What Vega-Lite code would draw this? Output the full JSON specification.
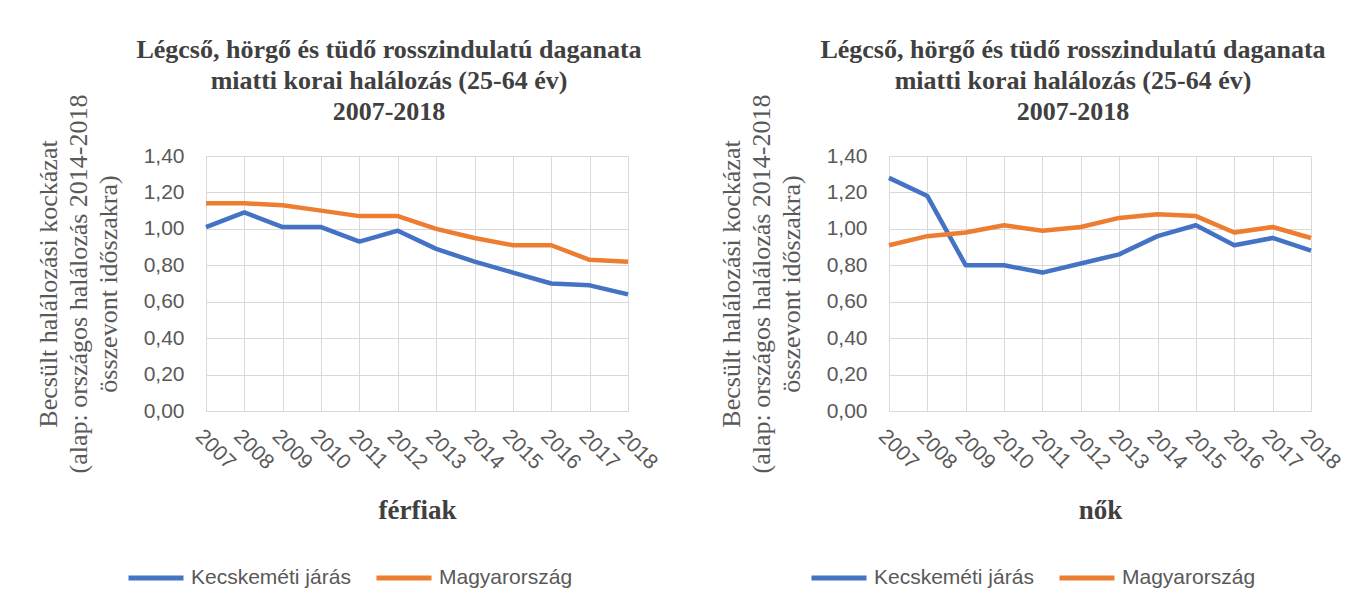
{
  "$schema": "https://vega.github.io/schema/vega-lite/v6.json",
  "background": "white",
  "padding": {"left": 35, "top": 36, "right": 5, "bottom": 5},
  "datasets": {
    "rows": [
      {"sex": "férfiak", "series": "Kecskeméti járás", "year": "2007", "value": 1.01},
      {"sex": "férfiak", "series": "Kecskeméti járás", "year": "2008", "value": 1.09},
      {"sex": "férfiak", "series": "Kecskeméti járás", "year": "2009", "value": 1.01},
      {"sex": "férfiak", "series": "Kecskeméti járás", "year": "2010", "value": 1.01},
      {"sex": "férfiak", "series": "Kecskeméti járás", "year": "2011", "value": 0.93},
      {"sex": "férfiak", "series": "Kecskeméti járás", "year": "2012", "value": 0.99},
      {"sex": "férfiak", "series": "Kecskeméti járás", "year": "2013", "value": 0.89},
      {"sex": "férfiak", "series": "Kecskeméti járás", "year": "2014", "value": 0.82},
      {"sex": "férfiak", "series": "Kecskeméti járás", "year": "2015", "value": 0.76},
      {"sex": "férfiak", "series": "Kecskeméti járás", "year": "2016", "value": 0.70},
      {"sex": "férfiak", "series": "Kecskeméti járás", "year": "2017", "value": 0.69},
      {"sex": "férfiak", "series": "Kecskeméti járás", "year": "2018", "value": 0.64},
      {"sex": "férfiak", "series": "Magyarország", "year": "2007", "value": 1.14},
      {"sex": "férfiak", "series": "Magyarország", "year": "2008", "value": 1.14},
      {"sex": "férfiak", "series": "Magyarország", "year": "2009", "value": 1.13},
      {"sex": "férfiak", "series": "Magyarország", "year": "2010", "value": 1.10},
      {"sex": "férfiak", "series": "Magyarország", "year": "2011", "value": 1.07},
      {"sex": "férfiak", "series": "Magyarország", "year": "2012", "value": 1.07},
      {"sex": "férfiak", "series": "Magyarország", "year": "2013", "value": 1.00},
      {"sex": "férfiak", "series": "Magyarország", "year": "2014", "value": 0.95},
      {"sex": "férfiak", "series": "Magyarország", "year": "2015", "value": 0.91},
      {"sex": "férfiak", "series": "Magyarország", "year": "2016", "value": 0.91},
      {"sex": "férfiak", "series": "Magyarország", "year": "2017", "value": 0.83},
      {"sex": "férfiak", "series": "Magyarország", "year": "2018", "value": 0.82},
      {"sex": "nők", "series": "Kecskeméti járás", "year": "2007", "value": 1.28},
      {"sex": "nők", "series": "Kecskeméti járás", "year": "2008", "value": 1.18},
      {"sex": "nők", "series": "Kecskeméti járás", "year": "2009", "value": 0.80},
      {"sex": "nők", "series": "Kecskeméti járás", "year": "2010", "value": 0.80},
      {"sex": "nők", "series": "Kecskeméti járás", "year": "2011", "value": 0.76},
      {"sex": "nők", "series": "Kecskeméti járás", "year": "2012", "value": 0.81},
      {"sex": "nők", "series": "Kecskeméti járás", "year": "2013", "value": 0.86},
      {"sex": "nők", "series": "Kecskeméti járás", "year": "2014", "value": 0.96},
      {"sex": "nők", "series": "Kecskeméti járás", "year": "2015", "value": 1.02},
      {"sex": "nők", "series": "Kecskeméti járás", "year": "2016", "value": 0.91},
      {"sex": "nők", "series": "Kecskeméti járás", "year": "2017", "value": 0.95},
      {"sex": "nők", "series": "Kecskeméti járás", "year": "2018", "value": 0.88},
      {"sex": "nők", "series": "Magyarország", "year": "2007", "value": 0.91},
      {"sex": "nők", "series": "Magyarország", "year": "2008", "value": 0.96},
      {"sex": "nők", "series": "Magyarország", "year": "2009", "value": 0.98},
      {"sex": "nők", "series": "Magyarország", "year": "2010", "value": 1.02},
      {"sex": "nők", "series": "Magyarország", "year": "2011", "value": 0.99},
      {"sex": "nők", "series": "Magyarország", "year": "2012", "value": 1.01},
      {"sex": "nők", "series": "Magyarország", "year": "2013", "value": 1.06},
      {"sex": "nők", "series": "Magyarország", "year": "2014", "value": 1.08},
      {"sex": "nők", "series": "Magyarország", "year": "2015", "value": 1.07},
      {"sex": "nők", "series": "Magyarország", "year": "2016", "value": 0.98},
      {"sex": "nők", "series": "Magyarország", "year": "2017", "value": 1.01},
      {"sex": "nők", "series": "Magyarország", "year": "2018", "value": 0.95}
    ]
  },
  "bounds": "flush",
  "spacing": 261,
  "resolve": {"legend": {"color": "independent"}},
  "hconcat": [
    {
      "width": 422,
      "height": 255,
      "data": {"name": "rows"},
      "transform": [{"filter": "datum.sex === 'férfiak'"}],
      "title": {"text": ["Légcső, hörgő és tüdő rosszindulatú daganata", "miatti korai halálozás (25-64 év)", "2007-2018"], "dx": -28},
      "mark": {"type": "line", "strokeWidth": 4.5, "strokeJoin": "round"},
      "encoding": {
        "x": {"field": "year", "type": "ordinal", "scale": {"type": "point", "padding": 0}, "axis": {"title": "férfiak"}},
        "y": {"field": "value", "type": "quantitative", "scale": {"domain": [0, 1.4], "nice": false}, "axis": {"title": ["Becsült halálozási kockázat", "(alap: országos halálozás 2014-2018", "összevont időszakra)"]}},
        "color": {"field": "series", "type": "nominal", "scale": {"domain": ["Kecskeméti járás", "Magyarország"], "range": ["#4472C4", "#ED7D31"]}, "legend": {"orient": "none", "legendX": -80, "legendY": 392, "direction": "horizontal"}}
      }
    },
    {
      "width": 422,
      "height": 255,
      "data": {"name": "rows"},
      "transform": [{"filter": "datum.sex === 'nők'"}],
      "title": {"text": ["Légcső, hörgő és tüdő rosszindulatú daganata", "miatti korai halálozás (25-64 év)", "2007-2018"], "dx": -27},
      "mark": {"type": "line", "strokeWidth": 4.5, "strokeJoin": "round"},
      "encoding": {
        "x": {"field": "year", "type": "ordinal", "scale": {"type": "point", "padding": 0}, "axis": {"title": "nők"}},
        "y": {"field": "value", "type": "quantitative", "scale": {"domain": [0, 1.4], "nice": false}, "axis": {"title": ["Becsült halálozási kockázat", "(alap: országos halálozás 2014-2018", "összevont időszakra)"]}},
        "color": {"field": "series", "type": "nominal", "scale": {"domain": ["Kecskeméti járás", "Magyarország"], "range": ["#4472C4", "#ED7D31"]}, "legend": {"orient": "none", "legendX": -80, "legendY": 392, "direction": "horizontal"}}
      }
    }
  ],
  "config": {
    "view": {"stroke": null},
    "title": {"font": "Liberation Serif", "fontSize": 26, "fontWeight": "bold", "color": "#404040", "lineHeight": 31, "anchor": "middle", "offset": -31},
    "axisX": {
      "labelAngle": 45, "labelAlign": "left", "labelBaseline": "top", "labelPadding": 14,
      "labelFont": "Liberation Sans", "labelFontSize": 21, "labelColor": "#595959",
      "ticks": false, "domainColor": "#d9d9d9", "grid": true, "gridColor": "#d9d9d9",
      "titleFont": "Liberation Serif", "titleFontSize": 27, "titleFontWeight": "bold", "titleColor": "#404040", "titlePadding": 25
    },
    "axisY": {
      "values": [0, 0.2, 0.4, 0.6, 0.8, 1.0, 1.2, 1.4],
      "labelExpr": "replace(format(datum.value, '.2f'), '.', ',')",
      "labelFont": "Liberation Sans", "labelFontSize": 21, "labelColor": "#595959", "labelPadding": 22,
      "ticks": false, "domain": false, "grid": true, "gridColor": "#d9d9d9",
      "titleFont": "Liberation Serif", "titleFontSize": 26, "titleFontWeight": "normal", "titleColor": "#595959", "titleLineHeight": 30, "titlePadding": 22
    },
    "legend": {
      "title": null, "symbolType": "stroke", "symbolSize": 3025, "symbolStrokeWidth": 5,
      "labelFont": "Liberation Sans", "labelFontSize": 21, "labelColor": "#595959", "labelOffset": 5, "columnPadding": 15
    }
  }
}
